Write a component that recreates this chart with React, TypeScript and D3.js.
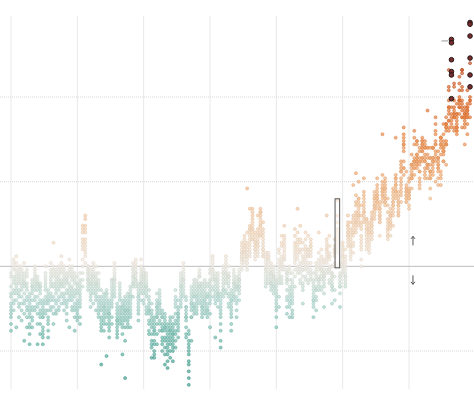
import React, { useEffect, useRef } from 'react';
import * as d3 from 'd3';

// monthly anomalies (hundredths of a degree C), one row of 12 months per year
const firstYear = 1850;

const block1850 = [
  [-38, -12, -30, -22, -6, -26, -18, -4, -28, -34, -16, -24],
  [-20, -2, -14, -26, 4, -10, -16, 0, -8, -22, -6, 2],
  [-36, -4, -16, 6, -10, -2, -20, -12, -6, 2, -14, -8],
  [-4, -24, -14, -30, -8, 0, -18, -10, -22, -6, -16, -2],
  [-26, -2, -18, -10, -32, -6, -4, -14, -22, 0, -12, -8],
  [-8, -22, 2, -16, -28, -10, -20, -6, -12, -44, -4, -10],
  [-30, -10, -24, -6, -20, -36, -12, -14, -26, -2, -18, -4],
  [-40, -18, -30, -46, -24, -16, -34, -22, -36, -28, -20, -26],
  [-12, -32, -24, -8, -36, -16, -26, -14, -10, -30, -20, -12],
  [-2, -20, -8, -26, -4, -14, -6, -18, -24, 0, -12, -10],
  [-46, -10, -22, -6, -28, -18, -12, -34, -8, -24, -14, -10],
  [-34, -14, -28, -40, -10, -22, -16, -30, -20, -12, -26, -12],
  [-46, -40, -24, -30, -42, -20, -36, -26, -38, -22, -30, -28],
  [-4, -26, -10, -20, 0, -14, -22, -6, -18, -12, -28, -8],
  [-38, -18, -30, -42, -16, -32, -22, -20, -34, -14, -26, -20],
  [-24, -4, -16, 2, -20, -10, -6, -18, -12, -26, -2, -8],
  [-6, -18, -2, -24, -10, 14, 0, -20, -12, -4, -28, -34],
  [-26, -8, -20, -4, -28, -12, -16, -6, -22, -14, -2, -10],
  [-20, -2, -14, -26, -6, -12, -4, -18, -8, -24, 0, -10],
  [2, -16, -4, -12, 6, -10, 0, -18, -8, -2, -22, -10],
  [-18, -6, -22, -2, -12, -20, -8, -4, -16, -26, 0, -10],
  [-28, -8, -20, -32, -14, -6, -22, -10, -16, -24, -4, -8],
  [-2, -18, -6, -14, 4, -16, -4, -20, -10, 0, -36, -12],
  [-20, -4, -16, -8, -24, 0, -12, -18, -6, -14, -26, -2],
  [-30, -10, -22, -14, -38, -6, -18, -24, -16, -26, -8, -4],
];

const block1875 = [
  [-28, -14, -24, -32, -10, -20, -26, -16, -22, -12, -30, -6],
  [-30, -22, -34, -16, -24, -12, -20, -10, -14, -8, -18, -4],
  [-12, -4, -8, 0, 4, 10, 12, 16, 20, 14, 22, 24],
  [28, 30, 24, 22, 20, 14, 10, 12, 8, 6, 2, 16],
  [-2, -8, 0, -4, -10, -14, -6, -2, -12, -8, -4, 0],
  [-4, -16, -10, -20, -6, -24, -12, -8, -18, -14, -2, -10],
  [-14, -6, 0, -10, -2, -22, -4, -12, -8, 2, -16, -6],
  [0, -8, -4, -18, -12, -26, -16, -6, -20, -10, -14, -10],
  [-24, -30, -10, -14, -20, -8, -22, -26, -12, -18, -28, -4],
  [-14, -22, -34, -58, -30, -24, -36, -20, -32, -26, -38, -18],
  [-38, -30, -22, -34, -18, -28, -24, -20, -26, -32, -16, -24],
  [-34, -53, -22, -18, -26, -30, -14, -20, -28, -16, -24, -16],
  [-42, -36, -26, -38, -28, -22, -32, -24, -34, -20, -30, -28],
  [-30, -24, -34, -16, -12, -20, -10, -14, -8, -22, -18, -8],
  [-14, 2, -4, -10, 0, -6, -18, -12, -2, -16, -8, -8],
  [-24, -38, -30, -36, -28, -42, -26, -34, -40, -32, -22, -32],
  [-32, -26, -14, -30, -18, -24, -20, -12, -28, -16, -34, -10],
  [-40, -24, -36, -28, -52, -30, -22, -26, -34, -20, -32, -24],
  [-66, -44, -30, -26, -36, -22, -24, -20, -28, -18, -32, -26],
  [-34, -20, -28, -22, -30, -36, -18, -24, -32, -26, -16, -26],
  [-36, -30, -18, -24, -14, -20, -26, -16, -22, -28, -12, -18],
  [-18, -12, -10, -2, -6, 0, -4, -8, 2, -10, -6, -2],
  [-8, -2, -10, 4, 0, -6, -12, -4, 2, -8, 0, -4],
  [-10, -26, -32, -22, -18, -28, -14, -24, -20, -16, -12, -18],
  [-12, -20, -4, -10, -2, -14, -8, -6, 0, 4, -16, -10],
];

const block1900 = [
  [-20, -6, -14, -2, -10, -4, -16, -8, -12, -22, -6, -4],
  [-8, -24, -12, -4, -18, -10, -28, -14, -6, -16, -26, -12],
  [-18, -32, -22, -38, -26, -20, -34, -28, -24, -40, -14, -26],
  [-28, -22, -40, -30, -46, -34, -54, -26, -44, -32, -48, -36],
  [-32, -50, -38, -44, -36, -54, -40, -30, -46, -38, -52, -34],
  [-40, -46, -30, -24, -34, -26, -20, -28, -22, -30, -16, -24],
  [-18, -28, -34, -14, -26, -22, -32, -16, -24, -38, -20, -22],
  [-30, -46, -34, -26, -42, -38, -30, -50, -36, -28, -44, -38],
  [-34, -28, -44, -36, -42, -52, -30, -38, -48, -36, -58, -32],
  [-40, -36, -52, -46, -60, -38, -44, -50, -34, -42, -48, -56],
  [-36, -46, -38, -42, -30, -40, -50, -54, -34, -44, -38, -32],
  [-48, -56, -44, -50, -40, -36, -42, -34, -46, -38, -40, -30],
  [-24, -34, -20, -32, -28, -38, -40, -48, -44, -22, -18, -14],
  [-28, -38, -32, -24, -36, -30, -26, -42, -28, -20, -34, -30],
  [-8, -22, -12, -18, -6, -20, -14, -4, -24, -10, -16, -12],
  [-2, -14, 0, -10, -16, -6, -8, -18, 2, -12, -4, -8],
  [-18, -24, -32, -26, -36, -28, -20, -42, -30, -24, -40, -30],
  [-40, -48, -56, -62, -70, -66, -58, -52, -46, -44, -38, -50],
  [-44, -30, -26, -18, -30, -22, -16, -24, -14, -20, -12, -22],
  [-8, -24, -14, -28, -18, -10, -22, -16, -26, -12, -24, -18],
  [-10, -22, -26, -14, -24, -8, -18, -28, -12, -20, -16, -18],
  [-2, -16, -6, -20, -10, -18, -4, -12, -22, -14, -6, -12],
  [-28, -14, -24, -10, -26, -18, -30, -12, -20, -24, -16, -22],
  [-24, -28, -10, -22, -14, -26, -12, -18, -8, -20, -20, -16],
  [-12, -26, -18, -28, -10, -22, -24, -16, -30, -18, -26, -18],
];

const block1925 = [
  [-28, -16, -8, -20, -12, -36, -10, -14, -4, -18, -2, -22],
  [6, 0, -12, -2, -8, 4, -6, 2, -14, -4, -18, -2],
  [-20, -8, -42, -6, -16, -22, -10, -12, -4, -18, -8, -14],
  [-4, -12, -20, -16, -8, -18, -14, -6, -24, -10, -16, -18],
  [-38, -48, -24, -30, -20, -26, -44, -18, -28, -22, -16, -34],
  [-18, -10, -4, -14, -6, -16, 0, -8, -12, -2, -14, -4],
  [2, -6, 4, -10, 0, -8, 6, -4, -14, -2, -16, -4],
  [0, -18, -6, -16, -10, -22, -4, -12, -8, -24, -6, -6],
  [-30, -20, -26, -38, -16, -22, -28, -14, -34, -24, -18, -20],
  [-20, -6, -12, -18, -4, -10, -16, -8, -2, -14, -18, -10],
  [-8, -22, -12, -30, -6, -18, -26, -10, -14, -20, -12, -12],
  [-16, -12, -4, -20, -8, -14, -6, -10, -12, -2, -8, -8],
  [-2, 8, 0, 4, 10, 6, 12, 2, 8, 14, 4, 6],
  [16, 6, 12, 2, 14, 8, 10, 18, 4, 12, 8, 10],
  [4, 12, -2, 8, 0, 6, 14, 2, 10, 46, 6, 20],
  [22, 8, 14, 20, 12, 18, 10, 24, 16, 6, 34, 22],
  [30, 18, 26, 22, 34, 20, 28, 16, 24, 32, 22, 16],
  [18, 6, 14, 10, 20, 8, 16, 4, 12, 14, 10, 12],
  [6, 12, 20, 10, 16, 8, 18, 14, 22, 12, 30, 14],
  [20, 28, 18, 32, 24, 30, 22, 34, 26, 32, 24, 18],
  [22, 10, 18, 12, 26, 8, 16, 20, 6, 14, 10, 6],
  [8, -6, 2, -4, -10, 0, 4, -8, -2, 6, -12, -2],
  [-8, 4, -4, 6, -2, 8, 0, -6, 2, -10, 4, 6],
  [-2, -10, -4, -14, 0, -8, -12, -6, 2, -10, -4, -4],
  [-4, -12, -2, -16, -8, -6, -14, -10, 0, -12, -6, -6],
];

const block1950 = [
  [-36, -30, -24, -18, -12, -14, -20, -10, -16, -22, -26, -8],
  [-24, -18, -10, -6, 0, 4, -2, 8, 10, -4, 2, -8],
  [6, 2, -6, 4, -2, 12, 2, -8, 14, 0, -10, 18],
  [14, 18, 4, 24, 6, 16, -2, 10, 0, 12, 4, 8],
  [-6, -18, -8, -24, -14, -4, -20, -2, -10, -28, -8, -4],
  [-4, -20, -30, -12, -16, -22, -8, -14, -2, -24, -18, 0],
  [-10, -26, -18, -28, -14, -22, -8, -16, -30, -12, -20, -4],
  [-12, -2, -6, 8, 14, 4, 12, 6, 22, 10, 2, 18],
  [34, 20, 14, 4, 10, 6, -4, 12, -2, 8, 16, 0],
  [14, 10, 24, -4, 0, 16, 2, -8, 8, -10, -2, 0],
  [-10, 6, -22, -12, 2, -2, 4, -6, 10, -14, -2, 14],
  [12, 20, 2, 8, 16, -2, 6, -6, 10, 0, 4, -8],
  [10, -2, 6, -8, 18, 2, -4, 10, 0, 6, -10, 8],
  [-6, 12, -2, -8, 2, 8, 14, 16, 12, 6, -4, 10],
  [-4, -10, -14, -20, -8, -16, -22, -24, -18, -30, -12, -20],
  [-2, -14, -4, -18, 0, -8, -12, -26, -20, -6, -14, 2],
  [-14, 0, -10, 4, -8, 8, -6, -12, -2, 20, 2, -8],
  [4, -12, 6, -6, -14, 2, -2, -8, 10, 0, -4, -2],
  [-16, -4, 4, -10, -24, -2, -6, -12, -4, 2, -8, -6],
  [-4, -2, 8, 14, 12, 4, 6, 2, 10, 30, 16, 10],
  [12, 18, 6, 0, -2, 8, -2, -8, 4, -10, 6, -4],
  [0, -22, -10, -4, -12, -6, 0, -8, -4, -14, -6, -12],
  [-20, -14, -6, 0, 2, 6, 8, 10, 16, 10, 8, 12],
  [30, 39, 26, 20, 18, 14, 10, 8, 12, 16, 22, 0],
  [-24, -16, -12, -6, -8, 0, -10, 2, -6, -4, -12, 0],
];

const block1975 = [
  [8, 14, 2, 6, 0, 10, -2, 4, 12, -4, 6, 0],
  [-6, -10, 0, -8, -4, 2, -2, -12, 4, -6, 6, 10],
  [14, 20, 24, 18, 26, 22, 16, 30, 12, 20, 18, 24],
  [20, 26, 10, 16, 8, 12, 4, 18, 14, 22, 6, 12],
  [12, 8, 18, 20, 14, 26, 22, 28, 30, 24, 48, 20],
  [36, 42, 26, 32, 22, 30, 24, 55, 28, 20, 38, 26],
  [50, 30, 40, 28, 32, 24, 36, 26, 38, 30, 34, 40],
  [4, 14, 0, 12, 18, 10, 22, 16, 26, 24, 30, 36],
  [52, 44, 40, 32, 38, 28, 34, 30, 36, 26, 42, 32],
  [28, 14, 24, 18, 22, 12, 16, 26, 20, 10, 22, 28],
  [22, 12, 16, 20, 10, 24, 14, 18, 26, 8, 20, 22],
  [28, 30, 20, 26, 18, 22, 16, 28, 20, 32, 24, 24],
  [30, 32, 34, 28, 36, 40, 42, 38, 34, 44, 36, 40],
  [52, 40, 48, 44, 38, 46, 36, 42, 40, 34, 38, 42],
  [18, 26, 30, 34, 28, 32, 36, 38, 30, 34, 26, 28],
  [40, 44, 78, 50, 46, 42, 38, 46, 54, 48, 44, 42],
  [40, 46, 38, 52, 36, 44, 48, 42, 40, 50, 38, 46],
  [40, 36, 32, 28, 22, 26, 18, 16, 20, 24, 18, 22],
  [34, 30, 26, 32, 24, 28, 22, 26, 18, 30, 24, 30],
  [32, 24, 38, 34, 30, 40, 36, 38, 44, 46, 42, 36],
  [54, 76, 46, 48, 42, 44, 52, 50, 44, 52, 48, 40],
  [30, 44, 32, 36, 38, 34, 40, 36, 30, 38, 42, 32],
  [38, 44, 46, 42, 50, 52, 48, 56, 58, 60, 62, 56],
  [72, 82, 74, 78, 76, 72, 70, 68, 58, 62, 54, 58],
  [48, 56, 46, 40, 42, 44, 46, 38, 44, 40, 42, 38],
];

const block2000 = [
  [34, 44, 50, 52, 44, 42, 40, 44, 46, 40, 42, 36],
  [46, 52, 60, 58, 60, 54, 60, 52, 56, 54, 66, 52],
  [72, 76, 80, 62, 62, 60, 64, 58, 62, 58, 62, 54],
  [72, 64, 62, 60, 66, 58, 60, 66, 64, 74, 62, 74],
  [60, 68, 62, 62, 48, 50, 46, 52, 56, 64, 70, 56],
  [70, 64, 74, 70, 68, 72, 68, 64, 74, 76, 72, 62],
  [52, 62, 58, 54, 56, 64, 62, 70, 66, 72, 70, 74],
  [92, 70, 66, 70, 64, 60, 60, 60, 58, 60, 58, 52],
  [40, 46, 70, 52, 52, 56, 60, 56, 56, 64, 64, 54],
  [58, 56, 54, 60, 62, 64, 70, 70, 70, 64, 70, 62],
  [72, 80, 88, 84, 78, 72, 68, 64, 62, 66, 74, 50],
  [48, 52, 58, 62, 56, 64, 64, 68, 60, 64, 60, 58],
  [48, 52, 56, 72, 76, 72, 66, 70, 76, 74, 76, 54],
  [68, 62, 68, 62, 68, 70, 66, 70, 78, 74, 84, 72],
  [72, 60, 74, 82, 84, 80, 72, 84, 88, 82, 72, 84],
  [86, 86, 94, 80, 90, 92, 82, 94, 98, 106, 104, 116],
  [122, 134, 132, 115, 113, 99, 90, 94, 88, 84, 86, 82],
  [98, 108, 106, 94, 90, 80, 88, 88, 82, 90, 88, 92],
  [82, 86, 90, 88, 80, 82, 84, 78, 82, 96, 80, 90],
  [94, 94, 112, 100, 90, 98, 98, 98, 98, 104, 96, 108],
  [116, 116, 114, 106, 96, 92, 88, 94, 98, 88, 104, 82],
  [82, 72, 84, 88, 86, 88, 92, 90, 90, 94, 90, 88],
  [92, 90, 104, 92, 88, 94, 90, 94, 88, 96, 78, 84],
  [88, 96, 120, 100, 98, 98, 106, 113, 144, 136, 143, 123],
];

const gridYears = [1850, 1875, 1900, 1925, 1950, 1975, 2000];
const gridTemps = [-0.5, 0.5, 1];
const boxYear = 1973;
const noteYear = 2016;
const noteMonth = 1;
const arrowYear = 2001.5;

const colorStops = [-0.6, -0.4, -0.2, 0, 0.2, 0.4, 0.6, 0.8, 1.0, 1.2, 1.4];
const colorRange = [
  '#4aa597', '#79c1b4', '#b9ded6', '#f3ede4', '#f8dcc0', '#f7c498',
  '#f4a86f', '#ee8d4c', '#e27133', '#c8552c', '#9e3c24',
];

const App = () => {
  const svgRef = useRef(null);

  useEffect(() => {
    const svg = d3.select(svgRef.current);
    svg.selectAll('*').remove();

    const width = 474;

    const rows = [...block1850, ...block1875, ...block1900, ...block1925, ...block1950, ...block1975, ...block2000];
    const data = rows.flatMap((row, i) =>
      row.map((v, m) => ({ year: firstYear + i, month: m, value: v / 100 }))
    );

    const x = d3.scaleLinear().domain([1850, 2000]).range([11, 409]);
    const y = d3.scaleLinear().domain([-0.5, 1]).range([351, 97]);
    const color = d3.scaleLinear<string>().domain(colorStops).range(colorRange).clamp(true);

    // record month = warmest value for each calendar month
    const records = new Set();
    d3.range(12).forEach(m => {
      records.add(d3.greatest(data.filter(d => d.month === m), d => d.value));
    });

    // grid
    svg.append('g')
      .selectAll('line')
      .data(gridYears)
      .join('line')
      .attr('x1', d => x(d)).attr('x2', d => x(d))
      .attr('y1', 16).attr('y2', 389)
      .attr('stroke', '#e8e8e8');

    svg.append('g')
      .selectAll('line')
      .data(gridTemps)
      .join('line')
      .attr('x1', 0).attr('x2', width)
      .attr('y1', d => y(d)).attr('y2', d => y(d))
      .attr('stroke', '#d8d8d8')
      .attr('stroke-dasharray', '1,1');

    svg.append('line')
      .attr('x1', 0).attr('x2', width)
      .attr('y1', y(0)).attr('y2', y(0))
      .attr('stroke', '#bdbdbd');

    // dots
    svg.append('g')
      .selectAll('circle')
      .data(data.filter(d => !records.has(d)))
      .join('circle')
      .attr('cx', d => x(d.year))
      .attr('cy', d => y(d.value))
      .attr('r', 1.5)
      .attr('fill', d => color(d.value))
      .attr('fill-opacity', 0.7)
      .attr('stroke', d => d3.color(color(d.value)).darker(0.25).formatHex())
      .attr('stroke-width', 0.6);

    // box around one year
    const boxVals = data.filter(d => d.year === boxYear).map(d => d.value);
    svg.append('rect')
      .attr('x', x(boxYear) - 2.3)
      .attr('y', y(d3.max(boxVals)) - 1.5)
      .attr('width', 4.6)
      .attr('height', y(d3.min(boxVals)) - y(d3.max(boxVals)) + 3)
      .attr('fill', 'rgba(255,255,255,0.6)')
      .attr('stroke', '#555')
      .attr('stroke-width', 1);

    // note tick
    const note = data.find(d => d.year === noteYear && d.month === noteMonth);
    svg.append('line')
      .attr('x1', x(noteYear) - 10).attr('x2', x(noteYear) - 3)
      .attr('y1', y(note.value) + 1.5).attr('y2', y(note.value) + 1.5)
      .attr('stroke', '#999');

    // record dots
    svg.append('g')
      .selectAll('circle')
      .data(data.filter(d => records.has(d)))
      .join('circle')
      .attr('cx', d => x(d.year))
      .attr('cy', d => y(d.value))
      .attr('r', 2.3)
      .attr('fill', '#7a2c2c')
      .attr('stroke', '#241515')
      .attr('stroke-width', 1);

    // warmer / cooler arrows
    const ax = x(arrowYear);
    const y0 = y(0);
    svg.append('path')
      .attr('d', `M${ax},${y0 - 21}V${y0 - 30}M${ax - 2},${y0 - 27.5}L${ax},${y0 - 30}L${ax + 2},${y0 - 27.5}`)
      .attr('fill', 'none').attr('stroke', '#555').attr('stroke-width', 1);
    svg.append('path')
      .attr('d', `M${ax},${y0 + 9}V${y0 + 18}M${ax - 2},${y0 + 15.5}L${ax},${y0 + 18}L${ax + 2},${y0 + 15.5}`)
      .attr('fill', 'none').attr('stroke', '#555').attr('stroke-width', 1);
  }, []);

  return (
    <svg
      ref={svgRef}
      width={474}
      height={395}
      style={{ position: 'absolute', left: 0, top: 0, background: '#fff' }}
    />
  );
};

export default App;
